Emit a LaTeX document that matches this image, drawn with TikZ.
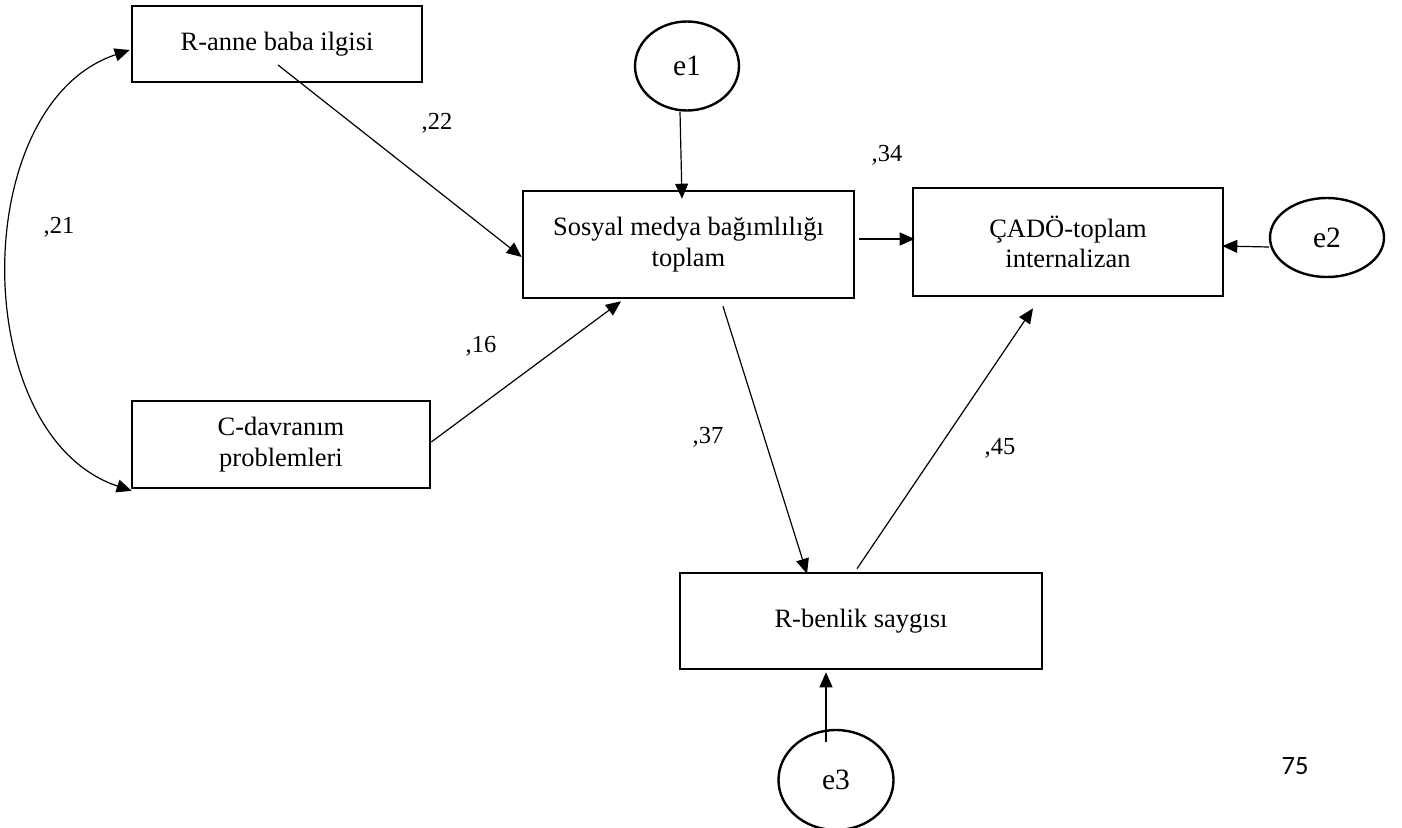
\documentclass[tikz,border=0pt]{standalone}
\usepackage{fontspec}
\setmainfont{Liberation Serif}
\newfontfamily\pagenumfont{Carlito}
\usetikzlibrary{shapes.geometric,arrows.meta,calc}
\begin{document}
\begin{tikzpicture}[x=1pt,y=-1pt,
  font=\fontsize{26.5}{30.5}\selectfont,
  box/.style={draw,line width=2.6pt,rectangle,align=center,inner sep=0pt},
  err/.style={draw,line width=2.4pt,ellipse,inner sep=0pt,font=\fontsize{29.5}{33}\selectfont},
  conn/.style={line width=1.2pt,-{Triangle[length=15pt,width=13pt]}},
  lbl/.style={inner sep=0pt,font=\fontsize{24.5}{28}\selectfont}]
\useasboundingbox (0,0) rectangle (1402,827);
\begin{scope}
\clip (0,0) rectangle (1402,827);
% boxes
\node[box,minimum width=290pt,minimum height=76pt] (anne) at (277,44) {R-anne baba ilgisi};
\node[box,minimum width=331pt,minimum height=107pt] (sosyal) at (688.5,244.5) {Sosyal medya bağımlılığı\\toplam};
\node[box,minimum width=310pt,minimum height=108pt] (cado) at (1068,242) {ÇADÖ-toplam\\internalizan};
\node[box,minimum width=298pt,minimum height=87pt] (cdav) at (281,444.5) {C-davranım\\problemleri};
\node[box,minimum width=362pt,minimum height=96pt] (benlik) at (861,621) {R-benlik saygısı};
% error terms
\node[err,minimum width=104pt,minimum height=89pt] (e1) at (687,66) {e1};
\node[err,minimum width=114pt,minimum height=79pt] (e2) at (1327,237.5) {e2};
\node[err,minimum width=115pt,minimum height=100pt] (e3) at (836,780) {e3};
% connectors
\draw[conn] ($(anne.center)+(1,21)$) -- ($(sosyal.west)+(0,12.5)$);
\draw[conn] ($(cdav.east)+(0,-2.5)$) -- ($(sosyal.south)+(-67.5,2)$);
\draw[conn] ($(e1.south)+(-7,0)$) -- ($(sosyal.north)+(-6.5,9)$);
\draw[conn] ($(sosyal.east)+(3.5,-5.5)$) -- ($(cado.west)+(3,-3)$);
\draw[conn] ($(e2.west)+(0,9.5)$) -- ($(cado.east)+(-2,4)$);
\draw[conn] ($(sosyal.south)+(34.5,7)$) -- ($(benlik.north)+(-54,2)$);
\draw[conn] ($(benlik.north)+(-4,-3)$) -- ($(cado.south)+(-35,11)$);
\draw[conn] ($(e3.north)+(-10,13)$) -- ($(benlik.south)+(-35,2)$);
% covariance
\draw[line width=1.2pt,{Triangle[length=15pt,width=13pt]}-{Triangle[length=15pt,width=13pt]}]
  ($(anne.west)+(-1,6)$) .. controls (-32.7,104) and (-32.7,436) .. ($(cdav.south west)+(1,1.5)$);
\end{scope}
% labels
\node[lbl] (l22) at (437,123) {,22};
\node[lbl] (l21) at (59,227) {,21};
\node[lbl] (l34) at (887,155) {,34};
\node[lbl] (l16) at (481,346) {,16};
\node[lbl] (l37) at (708,437) {,37};
\node[lbl] (l45) at (1000,448) {,45};
\node[lbl,font=\pagenumfont\fontsize{26.5}{30}\selectfont] (pg) at (1295,766) {75};
\end{tikzpicture}
\end{document}
